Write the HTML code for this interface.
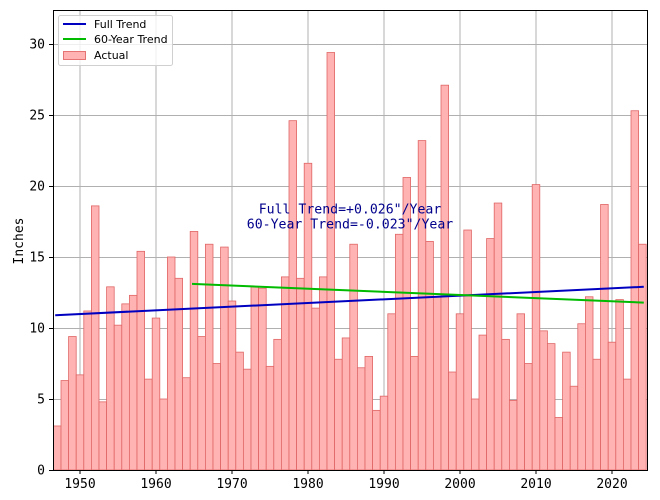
<!DOCTYPE html>
<html><head><meta charset="utf-8"><style>
body{margin:0;background:#fff}
svg text{font-family:"DejaVu Sans Mono","Liberation Mono",monospace;font-size:13px;fill:#000}
</style></head><body>
<svg id="s" width="660" height="495" xmlns="http://www.w3.org/2000/svg">
<rect width="660" height="495" fill="#fff"/>
<g id="grid" stroke="#b0b0b0" stroke-width="1"></g>
<g id="bars"></g>
<line x1="55.2" y1="315.2" x2="643.8" y2="286.8" stroke="#0000c0" stroke-width="2"/>
<line x1="192" y1="283.9" x2="643.8" y2="302.6" stroke="#00bb00" stroke-width="2"/>
<rect x="53.5" y="10.5" width="594" height="460" fill="none" stroke="#000" stroke-width="1"/>
<g id="ticks" stroke="#000"></g>
<text x="45" y="474.5" text-anchor="end">0</text>
<text x="45" y="403.5" text-anchor="end">5</text>
<text x="45" y="332.5" text-anchor="end">10</text>
<text x="45" y="261.5" text-anchor="end">15</text>
<text x="45" y="190.5" text-anchor="end">20</text>
<text x="45" y="119.5" text-anchor="end">25</text>
<text x="45" y="48.5" text-anchor="end">30</text>
<text x="80" y="488" text-anchor="middle">1950</text>
<text x="156" y="488" text-anchor="middle">1960</text>
<text x="232" y="488" text-anchor="middle">1970</text>
<text x="308" y="488" text-anchor="middle">1980</text>
<text x="384" y="488" text-anchor="middle">1990</text>
<text x="460" y="488" text-anchor="middle">2000</text>
<text x="536" y="488" text-anchor="middle">2010</text>
<text x="612" y="488" text-anchor="middle">2020</text>
<text transform="translate(23,241) rotate(-90)" text-anchor="middle">Inches</text>
<text x="350" y="213.5" text-anchor="middle" style="fill:#00008b;font-size:13.2px">Full Trend=+0.026"/Year</text>
<text x="350" y="228.5" text-anchor="middle" style="fill:#00008b;font-size:13.2px">60-Year Trend=-0.023"/Year</text>
<rect x="58.5" y="15.5" width="114" height="50" rx="2" fill="#fff" fill-opacity="0.8" stroke="#d0d0d0"/>
<line x1="63" y1="24" x2="86" y2="24" stroke="#0000c0" stroke-width="2"/>
<line x1="63" y1="39" x2="86" y2="39" stroke="#00bb00" stroke-width="2"/>
<rect x="63.5" y="51.5" width="22" height="8" fill="#ffb3b3" stroke="#e57373"/>
<text x="94" y="28" style="font-family:'DejaVu Sans','Liberation Sans',sans-serif;font-size:11px">Full Trend</text>
<text x="94" y="43" style="font-family:'DejaVu Sans','Liberation Sans',sans-serif;font-size:11px">60-Year Trend</text>
<text x="94" y="59" style="font-family:'DejaVu Sans','Liberation Sans',sans-serif;font-size:11px">Actual</text>
</svg>
<script>
var v=[3.1,6.3,9.4,6.7,11.2,18.6,4.8,12.9,10.2,11.7,12.3,15.4,6.4,10.7,5.0,15.0,13.5,6.5,16.8,9.4,15.9,7.5,15.7,11.9,8.3,7.1,12.9,12.8,7.3,9.2,13.6,24.6,13.5,21.6,11.4,13.6,29.4,7.8,9.3,15.9,7.2,8.0,4.2,5.2,11.0,16.6,20.6,8.0,23.2,16.1,12.2,27.1,6.9,11.0,16.9,5.0,9.5,16.3,18.8,9.2,4.9,11.0,7.5,20.1,9.8,8.9,3.7,8.3,5.9,10.3,12.2,7.8,18.7,9.0,12.0,6.4,25.3,15.9];
var ns="http://www.w3.org/2000/svg";
function X(y){return 80+(y-1950)*7.6}
function Y(v){return 470-v*14.2}
function el(p,t,a){var e=document.createElementNS(ns,t);for(var k in a)e.setAttribute(k,a[k]);document.getElementById(p).appendChild(e);}
for(var i=0;i<7;i++){var y=Y(i*5)+0.5;el('grid','line',{x1:53,x2:647,y1:y,y2:y});el('ticks','line',{x1:49,x2:53,y1:y,y2:y});}
for(var d=1950;d<=2020;d+=10){var x=X(d);el('grid','line',{x1:x,x2:x,y1:10,y2:470});el('ticks','line',{x1:x,x2:x,y1:470,y2:474});}
v.forEach(function(h,i){var yr=1947+i;var x0=X(yr-0.5),x1=X(yr+0.5);el('bars','rect',{x:x0,y:Y(h),width:x1-x0,height:h*14.2,fill:'#ffb3b3',stroke:'#e06666','stroke-width':0.8});});
</script>
</body></html>
